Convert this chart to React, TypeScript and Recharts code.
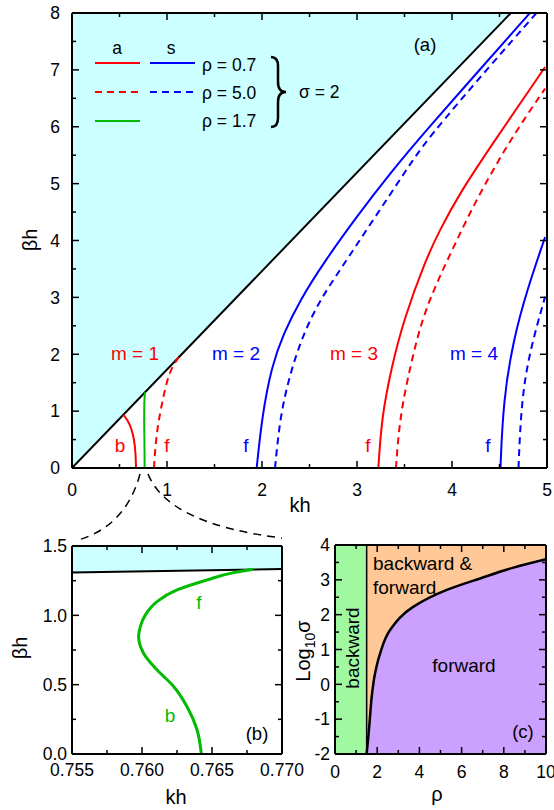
import React from "react";
import {
  ComposedChart,
  Line,
  Area,
  XAxis,
  YAxis,
  ReferenceArea,
  ReferenceLine,
} from "recharts";

type Pair = [number, number];
type Pt = { x: number; y: number };

const toPts = (a: Pair[]): Pt[] => a.map(([x, y]) => ({ x, y }));

// ---- panel (a): beta*h vs k*h, sigma = 2 ----
const lightLineA: Pair[] = [
  [0, 0],
  [4.62, 8],
];
// m = 1
const m1AntiRho07: Pair[] = [
  [0.674, 0], [0.67, 0.25], [0.655, 0.5], [0.625, 0.7], [0.585, 0.84], [0.54, 0.94],
];
const m1AntiRho50: Pair[] = [
  [0.863, 0], [0.877, 0.37], [0.9, 0.7], [0.926, 0.96], [0.997, 1.54], [1.06, 1.8], [1.137, 1.98],
];
// m = 2
const m2SymRho07: Pair[] = [
  [1.944, 0], [2.0, 0.9], [2.1, 1.78], [2.225, 2.36], [2.4, 2.95], [2.645, 3.6],
  [2.997, 4.42], [3.347, 5.18], [3.73, 5.94], [4.38, 7.17], [4.82, 8.0],
];
const m2SymRho50: Pair[] = [
  [2.137, 0], [2.19, 0.9], [2.295, 1.66], [2.435, 2.36], [2.61, 2.95], [2.82, 3.48],
  [3.17, 4.36], [3.52, 5.24], [3.73, 5.77], [4.42, 7.11], [4.89, 8.0],
];
// m = 3
const m3AntiRho07: Pair[] = [
  [3.225, 0], [3.26, 0.9], [3.365, 1.78], [3.49, 2.6], [3.72, 3.65], [3.87, 4.18],
  [4.08, 4.83], [4.43, 5.71], [4.98, 7.05],
];
const m3AntiRho50: Pair[] = [
  [3.41, 0], [3.45, 0.9], [3.56, 1.78], [3.68, 2.6], [3.85, 3.3], [4.05, 4.0],
  [4.25, 4.7], [4.61, 5.77], [4.98, 6.67],
];
// m = 4
const m4SymRho07: Pair[] = [
  [4.51, 0], [4.54, 1.19], [4.645, 2.25], [4.79, 3.13], [4.98, 4.06],
];
const m4SymRho50: Pair[] = [
  [4.7, 0], [4.73, 1.19], [4.82, 2.07], [4.98, 3.01],
];
// rho = 1.7 (same curve is zoomed in panel b)
const greenRho17: Pair[] = [
  [0.76424, 0], [0.76393, 0.175], [0.76321, 0.343], [0.76226, 0.487], [0.76107, 0.607],
  [0.76011, 0.727], [0.75976, 0.847], [0.75988, 0.919], [0.76024, 1.003], [0.76107, 1.099],
  [0.7625, 1.183], [0.76464, 1.255], [0.76655, 1.308], [0.76797, 1.332],
];

// ---- panel (b) ----
const lightLineB: Pair[] = [
  [0.755, 1.308],
  [0.77, 1.334],
];

// ---- panel (c): log10(sigma) vs rho ----
const rhoCritical = 1.5;
const boundaryC: Pair[] = [
  [1.5, -2], [1.58, -1.5], [1.66, -0.93], [1.74, -0.35], [1.9, 0.32], [2.14, 0.89],
  [2.61, 1.56], [3.72, 2.23], [5.3, 2.71], [6.88, 3.04], [8.46, 3.35], [10, 3.59],
];

// ticks
const ticksA_x = [0, 0.5, 1, 1.5, 2, 2.5, 3, 3.5, 4, 4.5, 5];
const majorA_x = [0, 1, 2, 3, 4, 5];
const ticksA_y = [0, 0.5, 1, 1.5, 2, 2.5, 3, 3.5, 4, 4.5, 5, 5.5, 6, 6.5, 7, 7.5, 8];
const majorA_y = [0, 1, 2, 3, 4, 5, 6, 7, 8];
const ticksB_x = [0.755, 0.7575, 0.76, 0.7625, 0.765, 0.7675, 0.77];
const majorB_x = [0.755, 0.76, 0.765, 0.77];
const ticksB_y = [0, 0.25, 0.5, 0.75, 1, 1.25, 1.5];
const majorB_y = [0, 0.5, 1, 1.5];
const ticksC_x = [0, 1, 2, 3, 4, 5, 6, 7, 8, 9, 10];
const majorC_x = [0, 2, 4, 6, 8, 10];
const ticksC_y = [-2, -1.5, -1, -0.5, 0, 0.5, 1, 1.5, 2, 2.5, 3, 3.5, 4];
const majorC_y = [-2, -1, 0, 1, 2, 3, 4];

const RED = "#ff0000";
const BLUE = "#0000ff";
const GREEN = "#00bb00";
const CYAN = "#ccffff";
const FONT = "'Liberation Sans', Arial, sans-serif";

type Side = "bottom" | "top" | "left" | "right";

function tickMaker(
  side: Side,
  major: number[],
  fmt: (v: number) => string,
  gap: number,
  showLabel: boolean
) {
  return (props: any) => {
    const { x, y, payload } = props;
    const v = payload.value as number;
    const isMajor = major.some((m) => Math.abs(m - v) < 1e-9);
    const len = isMajor ? 7 : 4;
    let x2 = x;
    let y2 = y;
    if (side === "bottom") y2 = y - len;
    if (side === "top") y2 = y + len;
    if (side === "left") x2 = x + len;
    if (side === "right") x2 = x - len;
    let label = null;
    if (showLabel && isMajor) {
      if (side === "bottom") {
        label = (
          <text x={x} y={y + gap} dy="0.72em" textAnchor="middle" fontSize={17.5} fontFamily={FONT} fill="#000">
            {fmt(v)}
          </text>
        );
      } else if (side === "left") {
        label = (
          <text x={x - gap} y={y} dy="0.36em" textAnchor="end" fontSize={17.5} fontFamily={FONT} fill="#000">
            {fmt(v)}
          </text>
        );
      }
    }
    return (
      <g>
        <line x1={x} y1={y} x2={x2} y2={y2} stroke="#000" strokeWidth={1.5} />
        {label}
      </g>
    );
  };
}

interface FrameOpts {
  xDomain: [number, number];
  yDomain: [number, number];
  xTicks: number[];
  xMajor: number[];
  yTicks: number[];
  yMajor: number[];
  xFmt: (v: number) => string;
  yFmt: (v: number) => string;
  xGap: number;
  yGap: number;
}

// bottom axis 30 tall, left axis 40 wide, top/right axes 1 px (just the frame and inner ticks)
function frameAxes(o: FrameOpts) {
  const common = { tickSize: 0, tickMargin: 0, tickLine: false, interval: 0 as const, allowDataOverflow: true };
  const axisLine = { stroke: "#000", strokeWidth: 2 };
  return [
    <XAxis key="xb" xAxisId="b" orientation="bottom" type="number" dataKey="x" height={30}
      domain={o.xDomain} ticks={o.xTicks} axisLine={axisLine} {...common}
      tick={tickMaker("bottom", o.xMajor, o.xFmt, o.xGap, true)} />,
    <XAxis key="xt" xAxisId="t" orientation="top" type="number" dataKey="x" height={1}
      domain={o.xDomain} ticks={o.xTicks} axisLine={axisLine} {...common}
      tick={tickMaker("top", o.xMajor, o.xFmt, 0, false)} />,
    <YAxis key="yl" yAxisId="l" orientation="left" type="number" width={40}
      domain={o.yDomain} ticks={o.yTicks} axisLine={axisLine} {...common}
      tick={tickMaker("left", o.yMajor, o.yFmt, o.yGap, true)} />,
    <YAxis key="yr" yAxisId="r" orientation="right" type="number" width={1}
      domain={o.yDomain} ticks={o.yTicks} axisLine={axisLine} {...common}
      tick={tickMaker("right", o.yMajor, o.yFmt, 0, false)} />,
  ];
}

function curve(
  key: string,
  pts: Pair[],
  color: string,
  dashed = false,
  width = 2,
  type: "basis" | "monotoneY" = "basis"
) {
  return (
    <Line
      key={key}
      xAxisId="b"
      yAxisId="l"
      data={toPts(pts)}
      dataKey="y"
      type={type}
      stroke={color}
      strokeWidth={width}
      strokeDasharray={dashed ? "7 5" : undefined}
      dot={false}
      activeDot={false}
      isAnimationActive={false}
    />
  );
}

function PanelA() {
  return (
    <ComposedChart width={554} height={520} margin={{ top: 12, left: 32, right: 6, bottom: 22 }}>
      <Area xAxisId="b" yAxisId="l" data={toPts(lightLineA)} dataKey="y" type="linear" baseValue={8}
        fill={CYAN} fillOpacity={1} stroke="#000" strokeWidth={2} isAnimationActive={false} />
      {curve("m1a7", m1AntiRho07, RED)}
      {curve("m1a5", m1AntiRho50, RED, true)}
      {curve("g17", greenRho17, GREEN, false, 2, "monotoneY")}
      {curve("m2s7", m2SymRho07, BLUE)}
      {curve("m2s5", m2SymRho50, BLUE, true)}
      {curve("m3a7", m3AntiRho07, RED)}
      {curve("m3a5", m3AntiRho50, RED, true)}
      {curve("m4s7", m4SymRho07, BLUE)}
      {curve("m4s5", m4SymRho50, BLUE, true)}
      {frameAxes({
        xDomain: [0, 5], yDomain: [0, 8],
        xTicks: ticksA_x, xMajor: majorA_x, yTicks: ticksA_y, yMajor: majorA_y,
        xFmt: (v) => String(v), yFmt: (v) => String(v), xGap: 15, yGap: 12,
      })}
    </ComposedChart>
  );
}

function PanelB() {
  return (
    <ComposedChart width={310} height={290} margin={{ top: 25, left: 32, right: 27, bottom: 26 }}>
      <Area xAxisId="b" yAxisId="l" data={toPts(lightLineB)} dataKey="y" type="linear" baseValue={1.5}
        fill={CYAN} fillOpacity={1} stroke="#000" strokeWidth={2} isAnimationActive={false} />
      {curve("g17b", greenRho17, GREEN, false, 3, "monotoneY")}
      {frameAxes({
        xDomain: [0.755, 0.77], yDomain: [0, 1.5],
        xTicks: ticksB_x, xMajor: majorB_x, yTicks: ticksB_y, yMajor: majorB_y,
        xFmt: (v) => v.toFixed(3), yFmt: (v) => v.toFixed(1), xGap: 9, yGap: 5,
      })}
    </ComposedChart>
  );
}

function PanelC() {
  const pts = toPts(boundaryC);
  return (
    <ComposedChart width={274} height={290} margin={{ top: 24, left: 15, right: 7, bottom: 26 }}>
      <ReferenceArea xAxisId="b" yAxisId="l" x1={0} x2={rhoCritical} y1={-2} y2={4}
        fill="#a0f8a0" fillOpacity={1} stroke="none" />
      <Area xAxisId="b" yAxisId="l" data={pts} dataKey={(d: Pt) => [d.y, 4]} type="monotoneY"
        fill="#ffc896" fillOpacity={1} stroke="none" isAnimationActive={false} />
      <Area xAxisId="b" yAxisId="l" data={pts} dataKey="y" baseValue={-2} type="monotoneY"
        fill="#cca0ff" fillOpacity={1} stroke="none" isAnimationActive={false} />
      <ReferenceLine xAxisId="b" yAxisId="l" x={rhoCritical} stroke="#000" strokeWidth={1.5} />
      {curve("sep", boundaryC, "#000", false, 2.5, "monotoneY")}
      {frameAxes({
        xDomain: [0, 10], yDomain: [-2, 4],
        xTicks: ticksC_x, xMajor: majorC_x, yTicks: ticksC_y, yMajor: majorC_y,
        xFmt: (v) => String(v), yFmt: (v) => String(v), xGap: 11, yGap: 5,
      })}
    </ComposedChart>
  );
}

function Notes() {
  const t = { fontFamily: FONT, fill: "#000" };
  return (
    <svg width={554} height={810} style={{ position: "absolute", left: 0, top: 0, pointerEvents: "none" }}>
      {/* legend, panel a */}
      <text x={117} y={48} dy="0.35em" textAnchor="middle" fontSize={17.5} {...t}>a</text>
      <text x={171} y={48} dy="0.35em" textAnchor="middle" fontSize={17.5} {...t}>s</text>
      <line x1={95} y1={63} x2={140} y2={63} stroke={RED} strokeWidth={2} />
      <line x1={150} y1={63} x2={195} y2={63} stroke={BLUE} strokeWidth={2} />
      <line x1={95} y1={92} x2={140} y2={92} stroke={RED} strokeWidth={2} strokeDasharray="7 5" />
      <line x1={150} y1={92} x2={195} y2={92} stroke={BLUE} strokeWidth={2} strokeDasharray="7 5" />
      <line x1={95} y1={121} x2={140} y2={121} stroke={GREEN} strokeWidth={2} />
      <text x={202} y={65} dy="0.35em" fontSize={17.5} {...t}>ρ = 0.7</text>
      <text x={202} y={93} dy="0.35em" fontSize={17.5} {...t}>ρ = 5.0</text>
      <text x={202} y={121} dy="0.35em" fontSize={17.5} {...t}>ρ = 1.7</text>
      <path d="M271,57 q7,0 7,9 v16 q0,10 8,10 q-8,0 -8,10 v16 q0,9 -7,9" fill="none" stroke="#000" strokeWidth={2.5} />
      <text x={299} y={92} dy="0.35em" fontSize={17.5} {...t}>σ = 2</text>
      <text x={425} y={45} dy="0.35em" textAnchor="middle" fontSize={18.5} {...t}>(a)</text>

      {/* mode labels */}
      <text x={135} y={353} dy="0.35em" textAnchor="middle" fontSize={19} fontFamily={FONT} fill={RED}>m = 1</text>
      <text x={236} y={353} dy="0.35em" textAnchor="middle" fontSize={19} fontFamily={FONT} fill={BLUE}>m = 2</text>
      <text x={354} y={353} dy="0.35em" textAnchor="middle" fontSize={19} fontFamily={FONT} fill={RED}>m = 3</text>
      <text x={474} y={353} dy="0.35em" textAnchor="middle" fontSize={19} fontFamily={FONT} fill={BLUE}>m = 4</text>
      <text x={120} y={445} dy="0.35em" textAnchor="middle" fontSize={19} fontFamily={FONT} fill={RED}>b</text>
      <text x={167} y={445} dy="0.35em" textAnchor="middle" fontSize={19} fontFamily={FONT} fill={RED}>f</text>
      <text x={246} y={445} dy="0.35em" textAnchor="middle" fontSize={19} fontFamily={FONT} fill={BLUE}>f</text>
      <text x={368} y={445} dy="0.35em" textAnchor="middle" fontSize={19} fontFamily={FONT} fill={RED}>f</text>
      <text x={488} y={445} dy="0.35em" textAnchor="middle" fontSize={19} fontFamily={FONT} fill={BLUE}>f</text>

      {/* axis titles a */}
      <text x={0} y={0} transform="translate(30,240) rotate(-90)" dy="0.35em" textAnchor="middle" fontSize={20} {...t}>βh</text>
      <text x={300} y={505} dy="0.35em" textAnchor="middle" fontSize={20} {...t}>kh</text>

      {/* zoom connectors */}
      <path d="M140,474 Q126,526 78,540" fill="none" stroke="#000" strokeWidth={1.5} strokeDasharray="8 6" />
      <path d="M148,474 Q168,524 282,538" fill="none" stroke="#000" strokeWidth={1.5} strokeDasharray="8 6" />

      {/* panel b */}
      <text x={199} y={602} dy="0.35em" textAnchor="middle" fontSize={19} fontFamily={FONT} fill={GREEN}>f</text>
      <text x={170} y={715} dy="0.35em" textAnchor="middle" fontSize={19} fontFamily={FONT} fill={GREEN}>b</text>
      <text x={257} y={734} dy="0.35em" textAnchor="middle" fontSize={18.5} {...t}>(b)</text>
      <text x={0} y={0} transform="translate(20,648) rotate(-90)" dy="0.35em" textAnchor="middle" fontSize={20} {...t}>βh</text>
      <text x={176} y={797} dy="0.35em" textAnchor="middle" fontSize={20} {...t}>kh</text>

      {/* panel c */}
      <text x={373} y={563} dy="0.35em" fontSize={19} {...t}>backward &amp;</text>
      <text x={373} y={587} dy="0.35em" fontSize={19} {...t}>forward</text>
      <text x={464} y={665} dy="0.35em" textAnchor="middle" fontSize={19} {...t}>forward</text>
      <text x={0} y={0} transform="translate(352,648) rotate(-90)" dy="0.35em" textAnchor="middle" fontSize={19} {...t}>backward</text>
      <text x={523} y={732} dy="0.35em" textAnchor="middle" fontSize={18.5} {...t}>(c)</text>
      <text x={437} y={794} dy="0.35em" textAnchor="middle" fontSize={20} {...t}>ρ</text>
      <text x={0} y={0} transform="translate(303,651) rotate(-90)" dy="0.35em" textAnchor="middle" fontSize={20} {...t}>
        Log<tspan fontSize={14} dy="5">10</tspan><tspan dy="-5">σ</tspan>
      </text>
    </svg>
  );
}

export default function App() {
  return (
    <div style={{ position: "absolute", left: 0, top: 0, width: 554, height: 810, background: "#fff" }}>
      <div style={{ position: "absolute", left: 0, top: 0 }}>
        <PanelA />
      </div>
      <div style={{ position: "absolute", left: 0, top: 520 }}>
        <PanelB />
      </div>
      <div style={{ position: "absolute", left: 280, top: 520 }}>
        <PanelC />
      </div>
      <Notes />
    </div>
  );
}
